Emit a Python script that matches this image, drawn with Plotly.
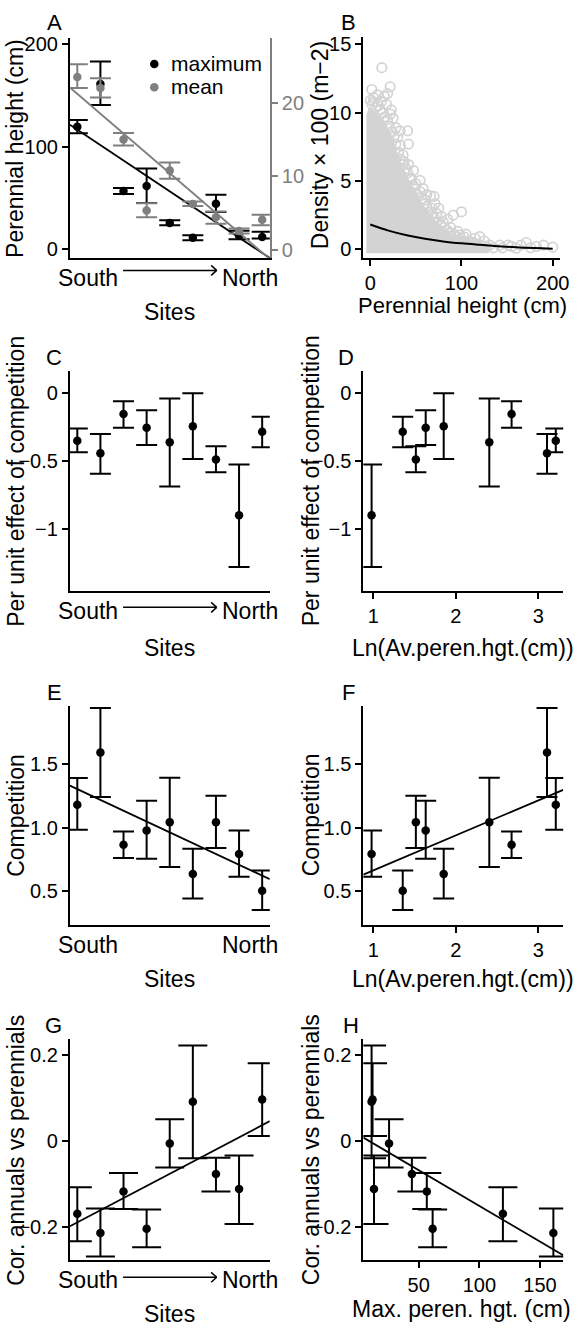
import plotly.graph_objects as go

FONT = "Liberation Sans, Arial, Helvetica, sans-serif"
W, H = 586, 1330
GRAY = "#7f7f7f"
LIGHT = "#d3d3d3"

# ---- site data (sites ordered south -> north) ----
sites = [1, 2, 3, 4, 5, 6, 7, 8, 9]

max_height = [119.4, 161.0, 56.7, 61.5, 25.6, 11.2, 44.4, 13.2, 12.0]
max_lo = [113.0, 140.5, 53.8, 45.0, 23.3, 8.7, 36.3, 9.6, 10.4]
max_hi = [125.9, 182.9, 59.6, 78.6, 28.2, 13.6, 53.1, 18.0, 17.0]

mean_height = [23.5, 22.0, 15.0, 5.37, 10.8, 6.27, 4.48, 2.6, 4.12]
mean_lo = [22.0, 20.7, 14.2, 4.48, 9.7, 5.98, 3.58, 2.25, 3.37]
mean_hi = [25.2, 23.3, 15.9, 6.36, 11.9, 6.6, 5.26, 2.95, 4.8]

ln_av_height = [3.21, 3.104, 2.675, 1.635, 2.405, 1.853, 1.516, 0.98, 1.357]

per_unit = [-0.353, -0.445, -0.158, -0.258, -0.365, -0.248, -0.491, -0.900, -0.287]
per_unit_lo = [-0.438, -0.596, -0.258, -0.384, -0.689, -0.487, -0.584, -1.28, -0.401]
per_unit_hi = [-0.263, -0.304, -0.064, -0.129, -0.044, -0.005, -0.394, -0.528, -0.177]

competition = [1.182, 1.593, 0.867, 0.979, 1.045, 0.637, 1.045, 0.794, 0.504]
competition_lo = [0.984, 1.243, 0.763, 0.757, 0.692, 0.444, 0.841, 0.614, 0.353]
competition_hi = [1.392, 1.945, 0.971, 1.214, 1.394, 0.836, 1.253, 0.979, 0.663]

cor_ann_per = [-0.170, -0.215, -0.118, -0.205, -0.006, 0.092, -0.077, -0.112, 0.097]
cor_lo = [-0.234, -0.270, -0.159, -0.248, -0.062, -0.040, -0.118, -0.194, 0.012]
cor_hi = [-0.108, -0.158, -0.075, -0.160, 0.051, 0.223, -0.039, -0.034, 0.182]

# fitted regressions: (value at x0, slope, x0)
fit_max = (116.4, -15.0, 1)
fit_mean = (21.2, -2.69, 1)
fit_comp_site = (1.305, -0.0851, 1)
fit_comp_ln = (0.389, 0.276, 0)
fit_cor_site = (-0.190, 0.02838, 1)
fit_cor_max = (0.0153, -0.00167, 0)

# ---- perennial density vs height ----
# dense core of overlapping plots (outline), then the individual plots around it
cloud_height = [-4.3, -4.3, -2, 0, 5, 10, 15, 20, 25, 30, 35, 40, 45, 50, 55, 60, 65,
                70, 75, 80, 85, 90, 95, 100, 110, 120, 126, 130, 130]
cloud_density = [-0.3, 9.8, 10.3, 10.4, 10.1, 9.8, 9.4, 8.9, 8.1, 7.0, 6.1, 5.5, 4.7,
                 4.1, 3.6, 3.1, 2.6, 2.2, 1.9, 1.6, 1.3, 1.1, 1.0, 0.9, 0.7, 0.5, 0.4,
                 0.25, -0.3]
plot_height = [12.7, 1.7, 3.6, 8, 15.6, 21.8, 18, 19, 23, 12, 25, 28, 22, 30, 32.7, 41,
               41.8, 33, 36, 37, 42, 47.3, 45, 54.6, 50, 58, 55, 62, 66, 70, 60, 71, 68,
               75, 73, 80, 78, 85, 91, 100, 88, 96, 98, 105, 103, 110, 115, 120, 118,
               125, 131, 135, 142, 145, 151, 155, 160, 165, 171, 176, 182, 190, 200,
               0, 2, 4, 6, 9, 11, 14, 16, 19, 21, 24, 26, 28, 31, 33, 36, 39, 41, 44,
               47, 49, 52, 56, 59, 62, 64, 67, 70, 73, 77, 81, 84, 88, 92, 95, 99, 103,
               107, 112, 116, 122, 127]
plot_density = [13.3, 11.7, 11.1, 11.3, 11.2, 11.9, 10.6, 11.4, 10.2, 10.8, 9.6, 8.9,
                9.9, 8.2, 8.67, 8.67, 7.7, 7.6, 6.9, 6.4, 6.2, 5.76, 5.2, 5.04, 4.8,
                4.43, 4.2, 4.0, 3.9, 3.87, 3.6, 3.34, 3.0, 3.0, 2.6, 2.0, 2.4, 2.2, 2.5,
                2.74, 1.6, 1.3, 1.04, 1.1, 0.6, 0.5, 0.8, 0.92, 0.2, 0.6, 0.3, 0.1, 0.3,
                0.1, 0.3, 0.2, 0.07, 0.3, 0.49, 0.1, 0.2, 0.3, 0.15,
                10.9, 10.6, 10.8, 10.4, 10.5, 10.2, 10.0, 9.7, 9.5, 9.0, 8.6, 8.2, 7.7,
                7.1, 6.6, 6.2, 5.9, 5.6, 5.1, 4.7, 4.4, 4.0, 3.7, 3.3, 3.1, 2.7, 2.5, 2.3,
                2.0, 1.8, 1.6, 1.4, 1.2, 1.1, 0.9, 0.8, 0.9, 0.6, 0.5, 0.4, 0.3, 0.2]
curve_height = [0, 20, 40, 60, 80, 100, 120, 140, 160, 180, 200]
curve_density = [1.81, 1.36, 1.02, 0.76, 0.57, 0.43, 0.32, 0.22, 0.14, 0.08, 0.04]


def px(x):
    return x / W


def py(y):
    return 1 - y / H


def xdom(a, b):
    return [px(a), px(b)]


def ydom(top, bottom):
    return [py(bottom), py(top)]


fig = go.Figure()


def points(x, y, lo, hi, color, xa, ya, cap):
    fig.add_trace(go.Scatter(
        x=x, y=y, mode="markers", xaxis=xa, yaxis=ya, showlegend=False,
        marker=dict(color=color, size=8.5),
        error_y=dict(type="data", symmetric=False,
                     array=[h - v for h, v in zip(hi, y)],
                     arrayminus=[v - l for v, l in zip(y, lo)],
                     color=color, thickness=2, width=cap)))


def fit_line(fit, xr, color, xa, ya):
    b0, b1, x0 = fit
    xs = [xr[0], xr[1]]
    ys = [b0 + b1 * (x - x0) for x in xs]
    fig.add_trace(go.Scatter(x=xs, y=ys, mode="lines", xaxis=xa, yaxis=ya,
                             line=dict(color=color, width=1.8), showlegend=False,
                             hoverinfo="skip"))


XR_SITE = [0.68, 9.33]
XR_LN = [0.88, 3.30]
XR_MAX = [4.4, 169.1]

# A: perennial heights
fit_line(fit_max, XR_SITE, "black", "x", "y")
fit_line(fit_mean, XR_SITE, GRAY, "x", "y9")
points(sites, max_height, max_lo, max_hi, "black", "x", "y", 10.5)
points(sites, mean_height, mean_lo, mean_hi, GRAY, "x", "y9", 10.5)

# B: density vs height
fig.add_trace(go.Scatter(x=cloud_height, y=cloud_density, mode="lines", fill="toself",
                         fillcolor=LIGHT, line=dict(width=0, color=LIGHT),
                         xaxis="x2", yaxis="y2", showlegend=False, hoverinfo="skip"))
fig.add_trace(go.Scatter(x=plot_height, y=plot_density, mode="markers",
                         marker=dict(symbol="circle-open", size=9.5, color=LIGHT,
                                     line=dict(width=1.7, color=LIGHT)),
                         xaxis="x2", yaxis="y2", showlegend=False))
fig.add_trace(go.Scatter(x=curve_height, y=curve_density, mode="lines",
                         line=dict(color="black", width=2, shape="spline"),
                         xaxis="x2", yaxis="y2", showlegend=False))

# C, D: per unit effect of competition
points(sites, per_unit, per_unit_lo, per_unit_hi, "black", "x3", "y3", 10.5)
points(ln_av_height, per_unit, per_unit_lo, per_unit_hi, "black", "x4", "y4", 10.5)

# E, F: competition
fit_line(fit_comp_site, XR_SITE, "black", "x5", "y5")
points(sites, competition, competition_lo, competition_hi, "black", "x5", "y5", 10.5)
fit_line(fit_comp_ln, XR_LN, "black", "x6", "y6")
points(ln_av_height, competition, competition_lo, competition_hi, "black", "x6", "y6", 10.5)

# G, H: correlation annuals vs perennials
fit_line(fit_cor_site, XR_SITE, "black", "x7", "y7")
points(sites, cor_ann_per, cor_lo, cor_hi, "black", "x7", "y7", 14.5)
fit_line(fit_cor_max, XR_MAX, "black", "x8", "y8")
points(max_height, cor_ann_per, cor_lo, cor_hi, "black", "x8", "y8", 14.5)

base = dict(showline=True, linecolor="black", linewidth=2, showgrid=False,
            zeroline=False, ticks="outside", ticklen=6, tickwidth=1.5,
            tickcolor="black", tickfont=dict(size=20, family=FONT, color="black"),
            mirror=False, fixedrange=True)


def ax(**kw):
    d = dict(base)
    d.update(kw)
    return d


no_ticks = dict(ticks="", showticklabels=False)

L = (71, 274)
R = (369, 572)
rows = [(33, 255), (368, 590), (705, 926), (1040, 1263)]

layout = dict(
    xaxis=ax(domain=xdom(*L), range=XR_SITE, anchor="y", **no_ticks),
    yaxis=ax(domain=ydom(*rows[0]), range=[-9, 206], anchor="x", tickvals=[0, 100, 200]),
    yaxis9=ax(overlaying="y", side="right", anchor="x", range=[-1.12, 28.8],
              tickvals=[0, 10, 20], linecolor=GRAY, tickcolor=GRAY,
              tickfont=dict(size=20, family=FONT, color=GRAY)),
    xaxis2=ax(domain=xdom(369, 569), range=[-7.6, 208.3], anchor="y2",
              tickvals=[0, 100, 200]),
    yaxis2=ax(domain=ydom(32, 255), range=[-0.68, 15.56], anchor="x2",
              tickvals=[0, 5, 10, 15]),
    xaxis3=ax(domain=xdom(*L), range=XR_SITE, anchor="y3", **no_ticks),
    yaxis3=ax(domain=ydom(*rows[1]), range=[-1.46, 0.16], anchor="x3",
              tickvals=[0, -0.5, -1]),
    xaxis4=ax(domain=xdom(*R), range=XR_LN, anchor="y4", tickvals=[1, 2, 3]),
    yaxis4=ax(domain=ydom(*rows[1]), range=[-1.46, 0.16], anchor="x4",
              tickvals=[0, -0.5, -1]),
    xaxis5=ax(domain=xdom(*L), range=XR_SITE, anchor="y5", **no_ticks),
    yaxis5=ax(domain=ydom(*rows[2]), range=[0.231, 1.962], anchor="x5",
              tickvals=[0.5, 1.0, 1.5], tickformat=".1f"),
    xaxis6=ax(domain=xdom(*R), range=XR_LN, anchor="y6", tickvals=[1, 2, 3]),
    yaxis6=ax(domain=ydom(*rows[2]), range=[0.231, 1.962], anchor="x6",
              tickvals=[0.5, 1.0, 1.5], tickformat=".1f"),
    xaxis7=ax(domain=xdom(*L), range=XR_SITE, anchor="y7", **no_ticks),
    yaxis7=ax(domain=ydom(*rows[3]), range=[-0.279, 0.239], anchor="x7",
              tickvals=[-0.2, 0, 0.2]),
    xaxis8=ax(domain=xdom(*R), range=XR_MAX, anchor="y8", tickvals=[50, 100, 150]),
    yaxis8=ax(domain=ydom(*rows[3]), range=[-0.279, 0.239], anchor="x8",
              tickvals=[-0.2, 0, 0.2]),
)

annotations = []


def text(t, x, y, size=23, angle=0, xanchor="center", color="black"):
    annotations.append(dict(text=t, x=px(x), y=py(y), xref="paper", yref="paper",
                            showarrow=False, textangle=angle, xanchor=xanchor,
                            yanchor="middle", font=dict(size=size, family=FONT,
                                                        color=color)))


# panel letters
for letter, x, y in [("A", 55, 18), ("B", 354, 18), ("C", 55, 355), ("D", 351, 355),
                     ("E", 55, 692), ("F", 354, 692), ("G", 54, 1027), ("H", 356, 1027)]:
    text(letter, x, y, size=22)

# y-axis titles
text("Perennial height (cm)", 15, 144, angle=-90)
text("Density × 100 (m−2)", 325, 141, angle=-90)
text("Per unit effect of competition", 16, 479, angle=-90)
text("Per unit effect of competition", 316, 479, angle=-90)
text("Competition", 16, 815, angle=-90)
text("Competition", 316, 815, angle=-90)
text("Cor. annuals vs perennials", 16, 1152, angle=-90)
text("Cor. annuals vs perennials", 316, 1152, angle=-90)

# x-axis titles
text("Sites", 172, 309)
text("Perennial height (cm)", 470, 302, size=22)
text("Sites", 172, 647)
text("Ln(Av.peren.hgt.(cm))", 470, 647)
text("Sites", 172, 980)
text("Ln(Av.peren.hgt.(cm))", 470, 980)
text("Sites", 172, 1317)
text("Max. peren. hgt. (cm)", 469, 1312)

# South -> North labels
for y in [275, 610, 946, 1283]:
    text("South", 89, y)
    text("North", 254, y)

# legend of panel A
text("maximum", 172, 59, size=21, xanchor="left")
text("mean", 172, 82, size=21, xanchor="left")

shapes = []
for yc, col in [(59.3, "black"), (82.7, GRAY)]:
    shapes.append(dict(type="circle", xref="paper", yref="paper",
                       xsizemode="pixel", ysizemode="pixel",
                       xanchor=px(156.7), yanchor=py(yc),
                       x0=-4.3, x1=4.3, y0=-4.3, y1=4.3,
                       fillcolor=col, line=dict(width=0)))

for y in [267, 606, 1280]:
    shapes.append(dict(type="line", xref="paper", yref="paper",
                       x0=px(125), x1=px(220), y0=py(y), y1=py(y),
                       line=dict(color="black", width=1.5)))
    for dy in (-5, 5):
        shapes.append(dict(type="line", xref="paper", yref="paper",
                           x0=px(214.5), x1=px(220), y0=py(y + dy), y1=py(y),
                           line=dict(color="black", width=1.5)))

fig.update_layout(**layout)
fig.update_layout(width=W, height=H, margin=dict(l=0, r=0, t=0, b=0),
                  paper_bgcolor="white", plot_bgcolor="white",
                  annotations=annotations, shapes=shapes, showlegend=False,
                  font=dict(family=FONT))

fig.write_html("out.html")
